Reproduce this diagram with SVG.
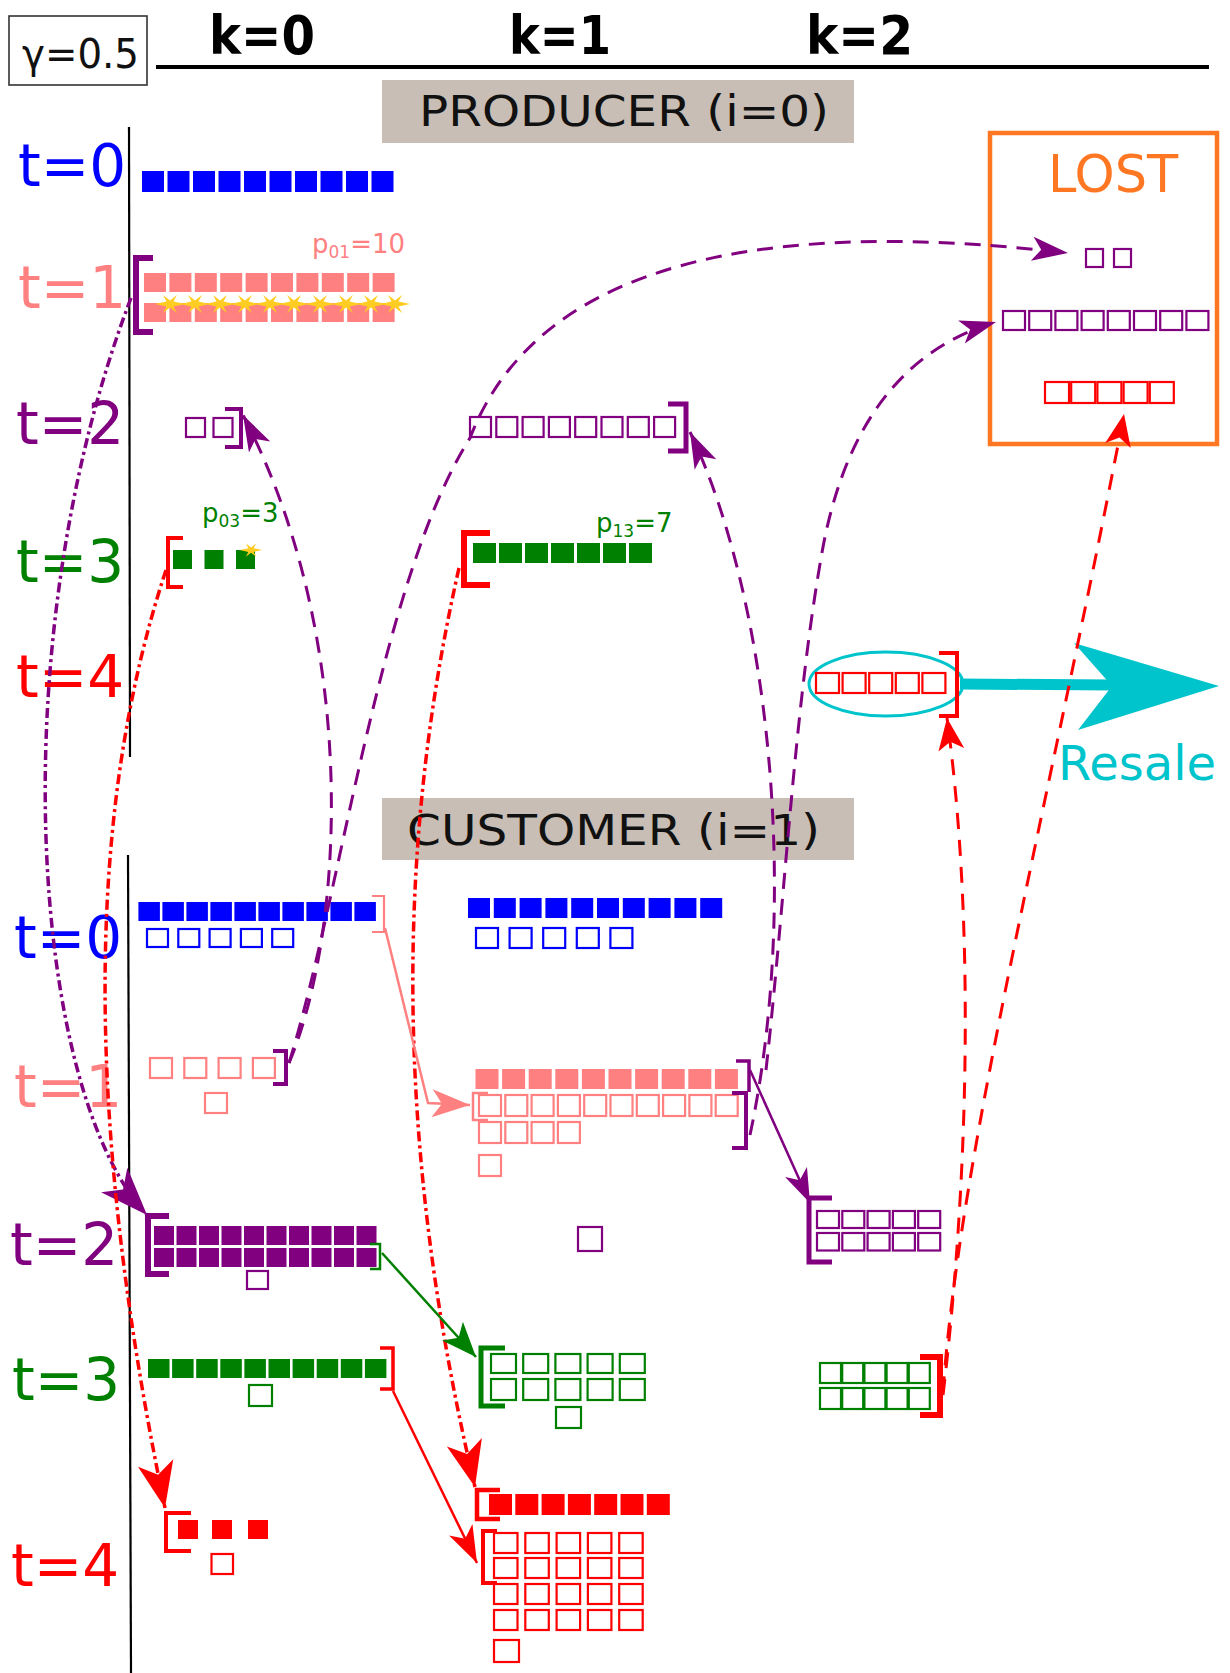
<svg xmlns="http://www.w3.org/2000/svg" width="1230" height="1673" viewBox="0 0 1230 1673">
<style>
  text { font-family: "DejaVu Sans", "Liberation Sans", sans-serif; }
  .lbl { font-size: 58px; }
  .hdr { font-size: 54px; font-weight: bold; fill: #000; }
  .ttl { font-size: 42px; fill: #111; }
  .sub { font-size: 26px; }
  .fb { fill: #0000ff; } .fs { fill: #ff8080; } .fp { fill: #800080; } .fg { fill: #008000; } .fr { fill: #ff0000; }
  .ob { fill: none; stroke: #0000ff; stroke-width: 2.2; }
  .os { fill: none; stroke: #ff8080; stroke-width: 2.2; }
  .op { fill: none; stroke: #800080; stroke-width: 2.2; }
  .og { fill: none; stroke: #008000; stroke-width: 2.2; }
  .or { fill: none; stroke: #ff0000; stroke-width: 2.2; }
  .br { fill: none; stroke-linejoin: miter; stroke-linecap: butt; }
  .box { fill: #c8beb6; }
  .axis { stroke: #000; stroke-width: 2.2; fill: none; }
  .dashP { fill: none; stroke: #800080; stroke-width: 3; stroke-dasharray: 16 10; }
  .dashR { fill: none; stroke: #ff0000; stroke-width: 3; stroke-dasharray: 16 11; }
  .ddR { fill: none; stroke: #ff0000; stroke-width: 3.5; stroke-dasharray: 10 4 3 4; }
  .ddP { fill: none; stroke: #800080; stroke-width: 3.5; stroke-dasharray: 10 4 3 4; }
  .star { fill: #ffcc22; }
</style>
<defs>
  <path id="spark" d="M-15,0 L-3.5,-2.5 L-7,-9 L0,-3.5 L7,-9 L3.5,-2.5 L15,0 L3.5,2.5 L7,9 L0,3.5 L-7,9 L-3.5,2.5 Z"/>
  <marker id="ahPd" markerUnits="userSpaceOnUse" markerWidth="60" markerHeight="60" orient="auto" refX="0" refY="0" overflow="visible">
    <path d="M0,0 L-36,-12 L-27,0 L-36,12 Z" fill="#800080"/>
  </marker>
  <marker id="ahPbig" markerUnits="userSpaceOnUse" markerWidth="60" markerHeight="60" orient="auto" refX="0" refY="0" overflow="visible">
    <path d="M0,0 L-48,-18 L-35,0 L-48,18 Z" fill="#800080"/>
  </marker>
  <marker id="ahRbig" markerUnits="userSpaceOnUse" markerWidth="60" markerHeight="60" orient="auto" refX="0" refY="0" overflow="visible">
    <path d="M0,0 L-46,-18 L-34,0 L-46,18 Z" fill="#ff0000"/>
  </marker>
  <marker id="ahRd" markerUnits="userSpaceOnUse" markerWidth="60" markerHeight="60" orient="auto" refX="0" refY="0" overflow="visible">
    <path d="M0,0 L-32,-13 L-24,0 L-32,13 Z" fill="#ff0000"/>
  </marker>
  <marker id="ahS" markerUnits="userSpaceOnUse" markerWidth="60" markerHeight="60" orient="auto" refX="0" refY="0" overflow="visible">
    <path d="M0,0 L-38,-14 L-28,0 L-38,14 Z" fill="#ff8080"/>
  </marker>
  <marker id="ahPs" markerUnits="userSpaceOnUse" markerWidth="60" markerHeight="60" orient="auto" refX="0" refY="0" overflow="visible">
    <path d="M0,0 L-34,-12 L-25,0 L-34,12 Z" fill="#800080"/>
  </marker>
  <marker id="ahG" markerUnits="userSpaceOnUse" markerWidth="60" markerHeight="60" orient="auto" refX="0" refY="0" overflow="visible">
    <path d="M0,0 L-35,-14 L-26,0 L-35,14 Z" fill="#008000"/>
  </marker>
  <marker id="ahRs" markerUnits="userSpaceOnUse" markerWidth="60" markerHeight="60" orient="auto" refX="0" refY="0" overflow="visible">
    <path d="M0,0 L-37,-13 L-27,0 L-37,13 Z" fill="#ff0000"/>
  </marker>
</defs>

<rect width="1230" height="1673" fill="#fff"/>

<!-- header -->
<g id="header">
  <rect x="9" y="16" width="138" height="69" fill="none" stroke="#333" stroke-width="1.6"/>
  <text x="22" y="68" font-size="40" fill="#111" textLength="117" lengthAdjust="spacingAndGlyphs">γ=0.5</text>
  <text class="hdr" x="209" y="54" textLength="106" lengthAdjust="spacingAndGlyphs">k=0</text>
  <text class="hdr" x="509" y="54" textLength="102" lengthAdjust="spacingAndGlyphs">k=1</text>
  <text class="hdr" x="806" y="54" textLength="107" lengthAdjust="spacingAndGlyphs">k=2</text>
  <line x1="156" y1="67" x2="1209" y2="67" stroke="#000" stroke-width="4"/>
</g>

<!-- producer section -->
<g id="producer-title">
  <rect class="box" x="382" y="80" width="472" height="63"/>
  <text class="ttl" x="419" y="126" textLength="410" lengthAdjust="spacingAndGlyphs">PRODUCER (i=0)</text>
</g>
<line id="producer-axis" class="axis" x1="129" y1="127" x2="130" y2="757"/>
<g id="producer-labels" class="lbl">
  <text x="18" y="186" fill="#0000ff">t=0</text>
  <text x="18" y="308" fill="#ff8080">t=1</text>
  <text x="16" y="444" fill="#800080">t=2</text>
  <text x="16" y="582" fill="#008000">t=3</text>
  <text x="16" y="697" fill="#ff0000">t=4</text>
</g>

<g id="p-t0-k0" class="fb">
  <rect x="142" y="171" width="22" height="21"/><rect x="167.5" y="171" width="22" height="21"/>
  <rect x="193" y="171" width="22" height="21"/><rect x="218.5" y="171" width="22" height="21"/>
  <rect x="244" y="171" width="22" height="21"/><rect x="269.5" y="171" width="22" height="21"/>
  <rect x="295" y="171" width="22" height="21"/><rect x="320.5" y="171" width="22" height="21"/>
  <rect x="346" y="171" width="22" height="21"/><rect x="371.5" y="171" width="22" height="21"/>
</g>

<g id="p-t1-k0">
  <text class="sub" x="312" y="253" fill="#ff8080">p<tspan font-size="17" dy="5">01</tspan><tspan dy="-5">=10</tspan></text>
  <path class="br" d="M153,258 H136 V332 H153" stroke="#800080" stroke-width="6"/>
  <g class="fs">
    <rect x="144" y="273" width="22" height="19"/><rect x="169.4" y="273" width="22" height="19"/>
    <rect x="194.8" y="273" width="22" height="19"/><rect x="220.2" y="273" width="22" height="19"/>
    <rect x="245.6" y="273" width="22" height="19"/><rect x="271" y="273" width="22" height="19"/>
    <rect x="296.4" y="273" width="22" height="19"/><rect x="321.8" y="273" width="22" height="19"/>
    <rect x="347.2" y="273" width="22" height="19"/><rect x="372.6" y="273" width="22" height="19"/>
    <rect x="144" y="303" width="22" height="19"/><rect x="169.4" y="303" width="22" height="19"/>
    <rect x="194.8" y="303" width="22" height="19"/><rect x="220.2" y="303" width="22" height="19"/>
    <rect x="245.6" y="303" width="22" height="19"/><rect x="271" y="303" width="22" height="19"/>
    <rect x="296.4" y="303" width="22" height="19"/><rect x="321.8" y="303" width="22" height="19"/>
    <rect x="347.2" y="303" width="22" height="19"/><rect x="372.6" y="303" width="22" height="19"/>
  </g>
  <g class="star">
    <use href="#spark" x="170" y="304"/><use href="#spark" x="195" y="304"/>
    <use href="#spark" x="220" y="304"/><use href="#spark" x="245" y="304"/>
    <use href="#spark" x="270" y="304"/><use href="#spark" x="294" y="304"/>
    <use href="#spark" x="320" y="304"/><use href="#spark" x="346" y="304"/>
    <use href="#spark" x="371" y="304"/><use href="#spark" x="395" y="304"/>
  </g>
</g>

<g id="p-t2-k0">
  <rect class="op" x="186" y="418" width="19" height="19"/>
  <rect class="op" x="213.5" y="418" width="19" height="19"/>
  <path class="br" d="M225,409 H241 V447 H225" stroke="#800080" stroke-width="4"/>
</g>

<g id="p-t2-k1">
  <g class="op">
    <rect x="470" y="417" width="21" height="20"/><rect x="496.3" y="417" width="21" height="20"/>
    <rect x="522.6" y="417" width="21" height="20"/><rect x="548.9" y="417" width="21" height="20"/>
    <rect x="575.2" y="417" width="21" height="20"/><rect x="601.5" y="417" width="21" height="20"/>
    <rect x="627.8" y="417" width="21" height="20"/><rect x="654.1" y="417" width="21" height="20"/>
  </g>
  <path class="br" d="M668,404 H686 V451 H668" stroke="#800080" stroke-width="5"/>
</g>

<g id="p-t3-k0">
  <text class="sub" x="202" y="522" fill="#008000">p<tspan font-size="17" dy="5">03</tspan><tspan dy="-5">=3</tspan></text>
  <path class="br" d="M183,538 H168 V587 H183" stroke="#ff0000" stroke-width="4"/>
  <g class="fg">
    <rect x="173" y="550" width="19" height="19"/><rect x="204.5" y="550" width="19" height="19"/>
    <rect x="236" y="550" width="19" height="19"/>
  </g>
  <use class="star" href="#spark" transform="translate(251,550) scale(0.75)"/>
</g>

<g id="p-t3-k1">
  <text class="sub" x="596" y="532" fill="#008000">p<tspan font-size="17" dy="5">13</tspan><tspan dy="-5">=7</tspan></text>
  <path class="br" d="M490,533 H464 V585 H490" stroke="#ff0000" stroke-width="6"/>
  <g class="fg">
    <rect x="473" y="543" width="23" height="20"/><rect x="499" y="543" width="23" height="20"/>
    <rect x="525" y="543" width="23" height="20"/><rect x="551" y="543" width="23" height="20"/>
    <rect x="577" y="543" width="23" height="20"/><rect x="603" y="543" width="23" height="20"/>
    <rect x="629" y="543" width="23" height="20"/>
  </g>
</g>

<g id="p-t4-k2">
  <ellipse cx="886" cy="684" rx="77" ry="32" fill="none" stroke="#00c4cc" stroke-width="3"/>
  <g class="or">
    <rect x="816" y="673" width="23" height="20"/><rect x="842.6" y="673" width="23" height="20"/>
    <rect x="869.2" y="673" width="23" height="20"/><rect x="895.8" y="673" width="23" height="20"/>
    <rect x="922.4" y="673" width="23" height="20"/>
  </g>
  <path class="br" d="M939,653 H957 V716 H939" stroke="#ff0000" stroke-width="4"/>
</g>

<g id="resale">
  <line x1="960" y1="684" x2="1112" y2="685" stroke="#00c4cc" stroke-width="11"/>
  <polygon points="1219,686 1074,643 1112,686 1078,730" fill="#00c4cc"/>
  <text x="1058" y="780" font-size="48" fill="#00c4cc">Resale</text>
</g>

<g id="lost">
  <rect x="990" y="133" width="227" height="311" fill="none" stroke="#ff7722" stroke-width="4.5"/>
  <text x="1048" y="192" font-size="51" fill="#ff7722">LOST</text>
  <g class="op">
    <rect x="1086" y="249" width="17" height="18"/><rect x="1114" y="249" width="17" height="18"/>
    <rect x="1003" y="311" width="22" height="19"/><rect x="1029.2" y="311" width="22" height="19"/>
    <rect x="1055.4" y="311" width="22" height="19"/><rect x="1081.6" y="311" width="22" height="19"/>
    <rect x="1107.8" y="311" width="22" height="19"/><rect x="1134" y="311" width="22" height="19"/>
    <rect x="1160.2" y="311" width="22" height="19"/><rect x="1186.4" y="311" width="22" height="19"/>
  </g>
  <g class="or">
    <rect x="1045" y="382" width="24" height="21"/><rect x="1071.2" y="382" width="24" height="21"/>
    <rect x="1097.4" y="382" width="24" height="21"/><rect x="1123.6" y="382" width="24" height="21"/>
    <rect x="1149.8" y="382" width="24" height="21"/>
  </g>
</g>

<!-- customer section -->
<g id="customer-title">
  <rect class="box" x="382" y="798" width="472" height="62"/>
  <text class="ttl" x="407" y="845" textLength="413" lengthAdjust="spacingAndGlyphs">CUSTOMER (i=1)</text>
</g>
<line id="customer-axis" class="axis" x1="128" y1="855" x2="131" y2="1673"/>
<g id="customer-labels" class="lbl">
  <text x="14" y="958" fill="#0000ff">t=0</text>
  <text x="14" y="1107" fill="#ff8080">t=1</text>
  <text x="10" y="1265" fill="#800080">t=2</text>
  <text x="12" y="1400" fill="#008000">t=3</text>
  <text x="11" y="1586" fill="#ff0000">t=4</text>
</g>

<g id="c-t0-k0">
  <g class="fb">
    <rect x="138.4" y="902" width="21.5" height="19"/><rect x="162.4" y="902" width="21.5" height="19"/>
    <rect x="186.4" y="902" width="21.5" height="19"/><rect x="210.4" y="902" width="21.5" height="19"/>
    <rect x="234.4" y="902" width="21.5" height="19"/><rect x="258.4" y="902" width="21.5" height="19"/>
    <rect x="282.4" y="902" width="21.5" height="19"/><rect x="306.4" y="902" width="21.5" height="19"/>
    <rect x="330.4" y="902" width="21.5" height="19"/><rect x="354.4" y="902" width="21.5" height="19"/>
  </g>
  <g class="ob">
    <rect x="147" y="929" width="21" height="18"/><rect x="178.3" y="929" width="21" height="18"/>
    <rect x="209.6" y="929" width="21" height="18"/><rect x="240.9" y="929" width="21" height="18"/>
    <rect x="272.2" y="929" width="21" height="18"/>
  </g>
  <path class="br" d="M372,896 H384 V932 H372" stroke="#ff8080" stroke-width="2.2"/>
</g>

<g id="c-t0-k1">
  <g class="fb">
    <rect x="468" y="898" width="22" height="20"/><rect x="493.8" y="898" width="22" height="20"/>
    <rect x="519.6" y="898" width="22" height="20"/><rect x="545.4" y="898" width="22" height="20"/>
    <rect x="571.2" y="898" width="22" height="20"/><rect x="597" y="898" width="22" height="20"/>
    <rect x="622.8" y="898" width="22" height="20"/><rect x="648.6" y="898" width="22" height="20"/>
    <rect x="674.4" y="898" width="22" height="20"/><rect x="700.2" y="898" width="22" height="20"/>
  </g>
  <g class="ob">
    <rect x="476" y="928" width="22" height="20"/><rect x="509.6" y="928" width="22" height="20"/>
    <rect x="543.2" y="928" width="22" height="20"/><rect x="576.8" y="928" width="22" height="20"/>
    <rect x="610.4" y="928" width="22" height="20"/>
  </g>
</g>

<g id="c-t1-k0">
  <g class="os">
    <rect x="150" y="1058" width="22" height="20"/><rect x="184.3" y="1058" width="22" height="20"/>
    <rect x="218.6" y="1058" width="22" height="20"/><rect x="252.9" y="1058" width="22" height="20"/>
    <rect x="205" y="1093" width="22" height="20"/>
  </g>
  <path class="br" d="M273,1051 H286 V1084 H273" stroke="#800080" stroke-width="4"/>
</g>

<g id="c-t1-k1">
  <g class="fs">
    <rect x="475.5" y="1069" width="23" height="20"/><rect x="502.1" y="1069" width="23" height="20"/>
    <rect x="528.7" y="1069" width="23" height="20"/><rect x="555.3" y="1069" width="23" height="20"/>
    <rect x="581.9" y="1069" width="23" height="20"/><rect x="608.5" y="1069" width="23" height="20"/>
    <rect x="635.1" y="1069" width="23" height="20"/><rect x="661.7" y="1069" width="23" height="20"/>
    <rect x="688.3" y="1069" width="23" height="20"/><rect x="714.9" y="1069" width="23" height="20"/>
  </g>
  <g class="os">
    <rect x="479" y="1095" width="22" height="21"/><rect x="505.3" y="1095" width="22" height="21"/>
    <rect x="531.6" y="1095" width="22" height="21"/><rect x="557.9" y="1095" width="22" height="21"/>
    <rect x="584.2" y="1095" width="22" height="21"/><rect x="610.5" y="1095" width="22" height="21"/>
    <rect x="636.8" y="1095" width="22" height="21"/><rect x="663.1" y="1095" width="22" height="21"/>
    <rect x="689.4" y="1095" width="22" height="21"/><rect x="715.7" y="1095" width="22" height="21"/>
    <rect x="479" y="1122" width="22" height="21"/><rect x="505.3" y="1122" width="22" height="21"/>
    <rect x="531.6" y="1122" width="22" height="21"/><rect x="557.9" y="1122" width="22" height="21"/>
    <rect x="479" y="1155" width="22" height="21"/>
  </g>
  <path class="br" d="M488,1093 H473 V1120 H488" stroke="#ff8080" stroke-width="2.5"/>
  <path class="br" d="M736,1061 H749 V1092" stroke="#800080" stroke-width="3.5"/>
  <path class="br" d="M732,1093 H746 V1148 H732" stroke="#800080" stroke-width="4"/>
</g>

<g id="c-t2-k0">
  <path class="br" d="M169,1216 H148 V1274 H169" stroke="#800080" stroke-width="6"/>
  <g class="fp">
    <rect x="154" y="1226" width="20" height="19"/><rect x="176.5" y="1226" width="20" height="19"/>
    <rect x="199" y="1226" width="20" height="19"/><rect x="221.5" y="1226" width="20" height="19"/>
    <rect x="244" y="1226" width="20" height="19"/><rect x="266.5" y="1226" width="20" height="19"/>
    <rect x="289" y="1226" width="20" height="19"/><rect x="311.5" y="1226" width="20" height="19"/>
    <rect x="334" y="1226" width="20" height="19"/><rect x="356.5" y="1226" width="20" height="19"/>
    <rect x="154" y="1248" width="20" height="19"/><rect x="176.5" y="1248" width="20" height="19"/>
    <rect x="199" y="1248" width="20" height="19"/><rect x="221.5" y="1248" width="20" height="19"/>
    <rect x="244" y="1248" width="20" height="19"/><rect x="266.5" y="1248" width="20" height="19"/>
    <rect x="289" y="1248" width="20" height="19"/><rect x="311.5" y="1248" width="20" height="19"/>
    <rect x="334" y="1248" width="20" height="19"/><rect x="356.5" y="1248" width="20" height="19"/>
  </g>
  <rect class="op" x="247" y="1271" width="21" height="18"/>
  <path class="br" d="M370,1244 H380 V1269 H370" stroke="#008000" stroke-width="2.5"/>
</g>

<g id="c-t2-k1">
  <rect class="op" x="578" y="1227" width="24" height="24"/>
</g>

<g id="c-t2-k2">
  <path class="br" d="M832,1198 H809 V1262 H832" stroke="#800080" stroke-width="5"/>
  <g class="op">
    <rect x="817" y="1211" width="22" height="17"/><rect x="842.3" y="1211" width="22" height="17"/>
    <rect x="867.6" y="1211" width="22" height="17"/><rect x="892.9" y="1211" width="22" height="17"/>
    <rect x="918.2" y="1211" width="22" height="17"/>
    <rect x="817" y="1233" width="22" height="17.5"/><rect x="842.3" y="1233" width="22" height="17.5"/>
    <rect x="867.6" y="1233" width="22" height="17.5"/><rect x="892.9" y="1233" width="22" height="17.5"/>
    <rect x="918.2" y="1233" width="22" height="17.5"/>
  </g>
</g>

<g id="c-t3-k0">
  <g class="fg">
    <rect x="148" y="1359" width="21.5" height="19"/><rect x="172.1" y="1359" width="21.5" height="19"/>
    <rect x="196.2" y="1359" width="21.5" height="19"/><rect x="220.3" y="1359" width="21.5" height="19"/>
    <rect x="244.4" y="1359" width="21.5" height="19"/><rect x="268.5" y="1359" width="21.5" height="19"/>
    <rect x="292.6" y="1359" width="21.5" height="19"/><rect x="316.7" y="1359" width="21.5" height="19"/>
    <rect x="340.8" y="1359" width="21.5" height="19"/><rect x="364.9" y="1359" width="21.5" height="19"/>
  </g>
  <rect class="og" x="249" y="1385" width="23" height="21"/>
  <path class="br" d="M380,1348 H393 V1389 H380" stroke="#ff0000" stroke-width="3.5"/>
</g>

<g id="c-t3-k1">
  <path class="br" d="M505,1348 H481 V1406 H505" stroke="#008000" stroke-width="5"/>
  <g class="og">
    <rect x="491" y="1354" width="25" height="19"/><rect x="523.2" y="1354" width="25" height="19"/>
    <rect x="555.4" y="1354" width="25" height="19"/><rect x="587.6" y="1354" width="25" height="19"/>
    <rect x="619.8" y="1354" width="25" height="19"/>
    <rect x="491" y="1379" width="25" height="21"/><rect x="523.2" y="1379" width="25" height="21"/>
    <rect x="555.4" y="1379" width="25" height="21"/><rect x="587.6" y="1379" width="25" height="21"/>
    <rect x="619.8" y="1379" width="25" height="21"/>
    <rect x="556" y="1407" width="25" height="21"/>
  </g>
</g>

<g id="c-t3-k2">
  <g class="og">
    <rect x="820" y="1363" width="21" height="20"/><rect x="842.2" y="1363" width="21" height="20"/>
    <rect x="864.4" y="1363" width="21" height="20"/><rect x="886.6" y="1363" width="21" height="20"/>
    <rect x="908.8" y="1363" width="21" height="20"/>
    <rect x="820" y="1388" width="21" height="21"/><rect x="842.2" y="1388" width="21" height="21"/>
    <rect x="864.4" y="1388" width="21" height="21"/><rect x="886.6" y="1388" width="21" height="21"/>
    <rect x="908.8" y="1388" width="21" height="21"/>
  </g>
  <path class="br" d="M920,1357 H940 V1415 H920" stroke="#ff0000" stroke-width="6"/>
</g>

<g id="c-t4-k0">
  <path class="br" d="M191,1513 H166 V1551 H191" stroke="#ff0000" stroke-width="4"/>
  <g class="fr">
    <rect x="178" y="1520" width="20" height="19"/><rect x="212" y="1520" width="20" height="19"/>
    <rect x="248" y="1520" width="20" height="19"/>
  </g>
  <rect class="or" x="211.5" y="1554" width="21.5" height="20"/>
</g>

<g id="c-t4-k1">
  <path class="br" d="M500,1490 H477 V1519 H500" stroke="#ff0000" stroke-width="4.5"/>
  <g class="fr">
    <rect x="489" y="1494" width="23" height="21"/><rect x="515.3" y="1494" width="23" height="21"/>
    <rect x="541.6" y="1494" width="23" height="21"/><rect x="567.9" y="1494" width="23" height="21"/>
    <rect x="594.2" y="1494" width="23" height="21"/><rect x="620.5" y="1494" width="23" height="21"/>
    <rect x="646.8" y="1494" width="23" height="21"/>
  </g>
  <path class="br" d="M497,1531 H483 V1583 H497" stroke="#ff0000" stroke-width="4"/>
  <g class="or">
    <rect x="494" y="1533" width="23.5" height="20"/><rect x="525.3" y="1533" width="23.5" height="20"/>
    <rect x="556.6" y="1533" width="23.5" height="20"/><rect x="587.9" y="1533" width="23.5" height="20"/>
    <rect x="619.2" y="1533" width="23.5" height="20"/>
    <rect x="494" y="1558" width="23.5" height="20"/><rect x="525.3" y="1558" width="23.5" height="20"/>
    <rect x="556.6" y="1558" width="23.5" height="20"/><rect x="587.9" y="1558" width="23.5" height="20"/>
    <rect x="619.2" y="1558" width="23.5" height="20"/>
    <rect x="494" y="1584" width="23.5" height="20"/><rect x="525.3" y="1584" width="23.5" height="20"/>
    <rect x="556.6" y="1584" width="23.5" height="20"/><rect x="587.9" y="1584" width="23.5" height="20"/>
    <rect x="619.2" y="1584" width="23.5" height="20"/>
    <rect x="494" y="1610" width="23.5" height="20"/><rect x="525.3" y="1610" width="23.5" height="20"/>
    <rect x="556.6" y="1610" width="23.5" height="20"/><rect x="587.9" y="1610" width="23.5" height="20"/>
    <rect x="619.2" y="1610" width="23.5" height="20"/>
    <rect x="494" y="1640" width="25" height="22"/>
  </g>
</g>

<!-- connectors -->
<g id="connectors">
  <!-- dash-dot: producer stock down to customer -->
  <path class="ddP" d="M131,298 C0,640 30,1090 147,1215" marker-end="url(#ahPbig)"/>
  <path class="ddR" d="M166,570 C90,800 80,1100 165,1508" marker-end="url(#ahRbig)"/>
  <path class="ddR" d="M459,568 C395,850 395,1150 475,1487" marker-end="url(#ahRbig)"/>
  <!-- dashed purple: customer returns -->
  <path class="dashP" d="M289,1063 C345,930 360,640 243,415" marker-end="url(#ahPd)"/>
  <path class="dashP" d="M289,1063 C340,900 380,580 470,438 C530,282 720,212 1068,253" marker-end="url(#ahPd)"/>
  <path class="dashP" d="M766,1070 C785,900 795,700 823,547 C845,430 900,350 996,322" marker-end="url(#ahPd)"/>
  <path class="dashP" d="M750,1135 C800,900 770,600 690,432" marker-end="url(#ahPd)"/>
  <!-- dashed red: customer returns -->
  <path class="dashR" d="M943,1392 C960,1150 1050,800 1124,414" marker-end="url(#ahRd)"/>
  <path class="dashR" d="M943,1395 C972,1150 972,900 947,718" marker-end="url(#ahRd)"/>
  <!-- solid: ageing within the customer -->
  <path d="M385,928 L428,1103 L470,1105" fill="none" stroke="#ff8080" stroke-width="2.5" stroke-linejoin="miter" marker-end="url(#ahS)"/>
  <path d="M750,1070 L810,1203" fill="none" stroke="#800080" stroke-width="2.5" marker-end="url(#ahPs)"/>
  <path d="M382,1253 L476,1357" fill="none" stroke="#008000" stroke-width="2.5" marker-end="url(#ahG)"/>
  <path d="M393,1391 L477,1563" fill="none" stroke="#ff0000" stroke-width="2.5" marker-end="url(#ahRs)"/>
</g>
</svg>
